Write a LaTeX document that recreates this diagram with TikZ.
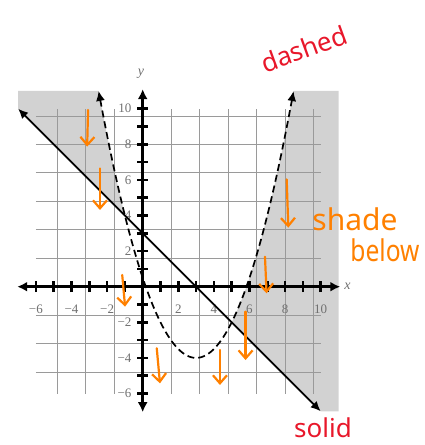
\documentclass[tikz,border=0pt]{standalone}
\usepackage{fontspec}
\setmainfont{Liberation Serif}
\newfontfamily\handfont{Noto Sans}
\usetikzlibrary{arrows.meta}
\definecolor{hred}{HTML}{E8172A}
\definecolor{horange}{HTML}{FF8000}
\definecolor{shadegray}{HTML}{D2D2D2}
\definecolor{gridgray}{HTML}{9A9A9A}
\definecolor{labgray}{HTML}{707070}
\begin{document}
\begin{tikzpicture}[x=17.8pt,y=17.8pt,
  gridline/.style={gridgray, line width=0.9pt},
  axisline/.style={line width=2.6pt, {Latex[length=10pt,width=10pt]}-{Latex[length=10pt,width=10pt]}},
  tickmark/.style={line width=2.6pt},
  ticklab/.style={labgray, font=\fontsize{13}{13}\selectfont, inner sep=0pt},
  axlab/.style={labgray, font=\itshape\fontsize{14}{14}\selectfont, inner sep=0pt},
  solidline/.style={line width=1.8pt, {Latex[length=10pt,width=9pt]}-{Latex[length=10pt,width=9pt]}},
  dashcurve/.style={line width=1.7pt, dash pattern=on 7pt off 4pt, {Latex[length=10pt,width=9pt]}-{Latex[length=10pt,width=9pt]}},
  harrow/.style={horange, line width=2.2pt, line cap=round, line join=round, -{Straight Barb[length=8pt,width=14pt]}},
  handred/.style={hred, font=\handfont\fontsize{26}{26}\selectfont, inner sep=0pt, anchor=base},
  handorange/.style={horange, font=\handfont\fontsize{30}{30}\selectfont, inner sep=0pt, anchor=base}
]
\useasboundingbox (-142.7pt,-158.3pt) rectangle (282.3pt,286.7pt);

% shaded solution regions
\fill[shadegray] (-7,10) -- (-7,11) -- plot[domain=-2.4772:-1, samples=40] (\x,{0.5*(\x-3)*(\x-3)-4}) -- cycle;
\fill[shadegray] (5,-2) -- plot[domain=5:8.4772, samples=40] (\x,{0.5*(\x-3)*(\x-3)-4}) -- (11,11) -- (11,-7) -- (10,-7) -- cycle;

% grid
\draw[gridline] (-6,-6) grid (10,10);

% axes
\coordinate (xa) at (-7.05,0);
\coordinate (xb) at (11.1,0);
\coordinate (ya) at (0,-7.05);
\coordinate (yb) at (0,11.1);
\draw[axisline] (xa) -- (xb);
\draw[axisline] (ya) -- (yb);
\foreach \i in {-6,-5,-4,-3,-2,-1,1,2,3,4,5,6,7,8,9,10} {
  \draw[tickmark] (\i,-0.3) -- (\i,0.3);
  \draw[tickmark] (-0.3,\i) -- (0.3,\i);
}
\foreach \v/\t/\n in {-6/−6/a,-4/−4/b,-2/−2/c,2/2/d,4/4/e,6/6/f,8/8/g,10/10/h} {
  \node[ticklab] (xl\n) at (\v,-1.25) {\t};
}
\foreach \v/\t/\n in {-6/−6/a,-4/−4/b,-2/−2/c,2/2/d,4/4/e,6/6/f,8/8/g,10/10/h} {
  \node[ticklab, anchor=east] (yl\n) at (-0.62,\v) {\t};
}
\node[axlab] (xlab) at (11.5,0.05) {x};
\node[axlab] (ylab) at (-0.1,11.95) {y};

% boundary line y = -x + 3 (solid)
\coordinate (la) at (-7,10);
\coordinate (lb) at (10,-7);
\draw[solidline] (la) -- (lb);

% boundary parabola (dashed)
\draw[dashcurve] plot[domain=-2.4772:8.4772, samples=120] (\x,{0.5*(\x-3)*(\x-3)-4});

% hand-drawn arrows
\foreach \n/\xa/\ya/\xb/\yb in {1/-3.07/9.93/-3.12/7.87, 2/-2.40/6.64/-2.40/4.31, 3/-1.15/0.66/-0.99/-1.12, 4/0.79/-3.46/0.97/-5.43, 5/4.34/-3.55/4.34/-5.52, 6/5.78/-1.40/5.78/-4.12, 7/6.87/1.68/6.96/-0.37, 8/8.09/6.03/8.18/3.32} {
  \coordinate (ha\n) at (\xa,\ya);
  \coordinate (hb\n) at (\xb,\yb);
  \draw[harrow] (ha\n) -- (hb\n);
}

% handwritten notes
\node[handred, rotate=20] (dashed) at (9.25,12.85) {dashed};
\node[handred] (solid) at (10.13,-8.45) {solid};
\node[handorange] (shade) at (11.93,3.18) {shade};
\node[handorange, xscale=0.82] (below) at (13.61,1.40) {below};
\end{tikzpicture}
\end{document}
